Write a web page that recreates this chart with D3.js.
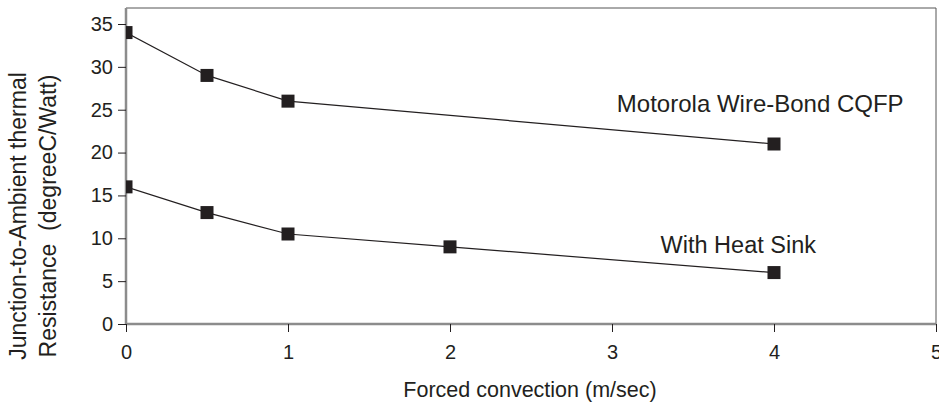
<!DOCTYPE html>
<html>
<head>
<meta charset="utf-8">
<script src="https://cdn.jsdelivr.net/npm/d3@7"></script>
<style>
  body { margin: 0; background: #fff; }
  text { font-family: "Liberation Sans", Arial, sans-serif; fill: #231f20; }
</style>
</head>
<body>
<div id="chart"></div>
<script>
// chart data
var motorola = [[0, 34], [0.5, 29], [1, 26], [4, 21]];
var heatSink = [[0, 16], [0.5, 13], [1, 10.5], [2, 9], [4, 6]];
var xTicks = [0, 1, 2, 3, 4, 5];
var yTicks = [0, 5, 10, 15, 20, 25, 30, 35];
var seriesLabels = ["Motorola Wire-Bond CQFP", "With Heat Sink"];

var svgWidth = 939, svgHeight = 405;
var margin = {top: 8, right: 3, bottom: 81, left: 126};
var width = svgWidth - margin.left - margin.right;
var height = svgHeight - margin.top - margin.bottom;

var svg = d3.select('#chart').append('svg')
  .attr('width', svgWidth)
  .attr('height', svgHeight);

var g = svg.append('g')
  .attr('transform', 'translate(' + margin.left + ',' + margin.top + ')');

var x = d3.scaleLinear().domain([0, 5]).range([0, width]);
var y = d3.scaleLinear().domain([0, 35 * 316 / 300]).range([height, 0]);

// clip markers to the plot frame, like the original
g.append('clipPath').attr('id', 'plot-clip')
  .append('rect').attr('width', width).attr('height', height);

// frame top/right
g.append('path')
  .attr('d', 'M0,0H' + width + 'V' + height)
  .attr('fill', 'none')
  .attr('stroke', '#555')
  .attr('stroke-width', 1);

// axes
var xAxis = g.append('g')
  .attr('transform', 'translate(0,' + height + ')')
  .call(d3.axisBottom(x).tickValues(xTicks).tickSize(8).tickPadding(13).tickFormat(d3.format('d')));
var yAxis = g.append('g')
  .call(d3.axisLeft(y).tickValues(yTicks).tickSize(8).tickPadding(5).tickFormat(d3.format('d')));

[xAxis, yAxis].forEach(function(a) {
  a.attr('font-size', null).attr('font-family', null);
  a.select('.domain').attr('stroke', '#8c8c8c').attr('stroke-width', 2.5);
  a.selectAll('.tick line').attr('stroke', '#231f20').attr('stroke-width', 1);
  a.selectAll('.tick text')
    .style('font-size', '20px')
    .attr('fill', '#231f20');
});
xAxis.select('.domain').attr('d', 'M0,0H' + width);
yAxis.select('.domain').attr('d', 'M0,' + height + 'V0');

var line = d3.line()
  .x(function(d) { return x(d[0]); })
  .y(function(d) { return y(d[1]); });

var plot = g.append('g').attr('clip-path', 'url(#plot-clip)');

[motorola, heatSink].forEach(function(series) {
  plot.append('path')
    .datum(series)
    .attr('fill', 'none')
    .attr('stroke', '#231f20')
    .attr('stroke-width', 1.2)
    .attr('d', line);

  plot.selectAll(null)
    .data(series)
    .enter()
    .append('rect')
    .attr('x', function(d) { return x(d[0]) - 6.5; })
    .attr('y', function(d) { return y(d[1]) - 6.5; })
    .attr('width', 13)
    .attr('height', 13)
    .attr('fill', '#231f20');
});

// series labels
g.append('text')
  .attr('x', x(3.03))
  .attr('y', y(24.7))
  .style('font-size', '24px')
  .text(seriesLabels[0]);
g.append('text')
  .attr('x', x(3.30))
  .attr('y', y(8.3))
  .style('font-size', '23.5px')
  .text(seriesLabels[1]);

// axis titles
svg.append('text')
  .attr('x', 530)
  .attr('y', 397)
  .attr('text-anchor', 'middle')
  .style('font-size', '21.5px')
  .text('Forced convection (m/sec)');

var yTitle = svg.append('text')
  .attr('transform', 'translate(26,216) rotate(-90)')
  .attr('text-anchor', 'middle')
  .style('font-size', '23px');
yTitle.append('tspan').attr('x', 0).attr('dy', 0).text('Junction-to-Ambient thermal');
yTitle.append('tspan').attr('x', 0).attr('dy', 30).style('white-space', 'pre').text('Resistance  (degreeC/Watt)');
</script>
</body>
</html>
